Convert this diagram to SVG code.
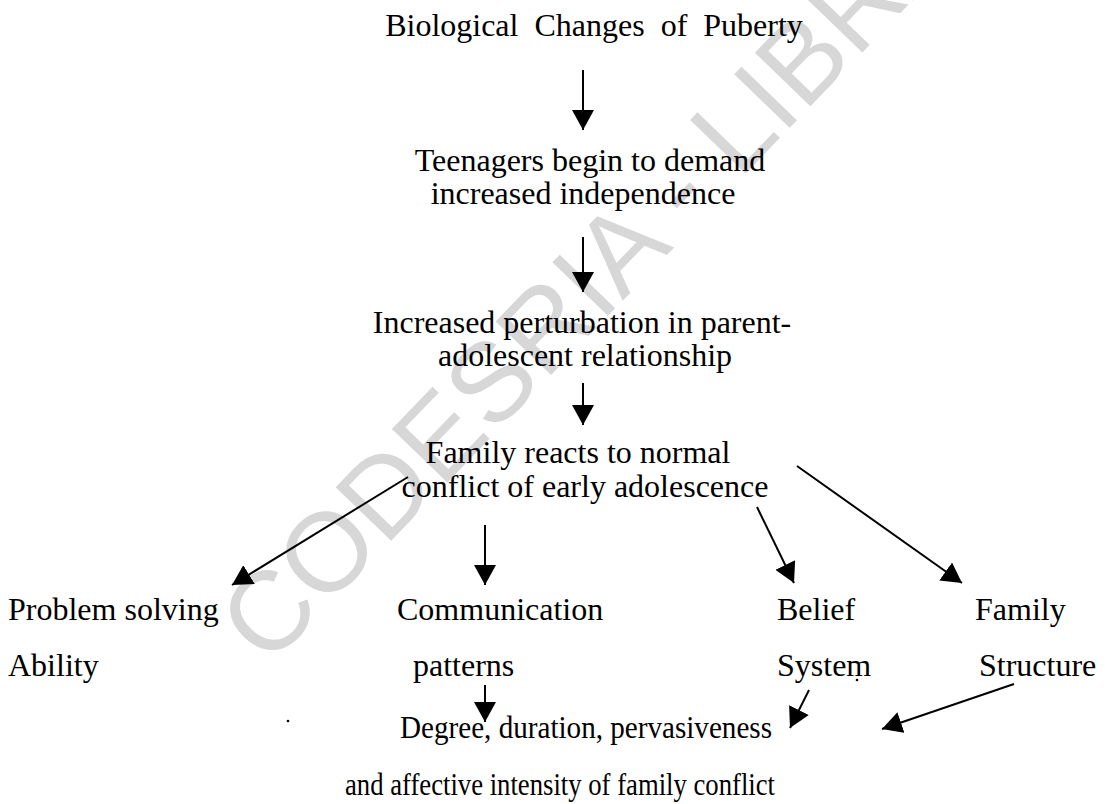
<svg xmlns="http://www.w3.org/2000/svg" width="1105" height="804" viewBox="0 0 1105 804">
<style>
.t{font-family:"Liberation Serif","Times New Roman",serif;font-size:32px;fill:#000;}
.c{text-anchor:middle;}
.e line{stroke:#000;stroke-width:2;marker-end:url(#ah);}
.wm{font-family:"Liberation Sans",Arial,sans-serif;font-size:112px;fill:#d7d7d7;}
</style>
<defs>
<marker id="ah" viewBox="0 0 20 22" refX="20" refY="11" markerWidth="20" markerHeight="22" orient="auto" markerUnits="userSpaceOnUse"><path d="M0,0 L20,11 L0,22 z" fill="#000"/></marker>
</defs>
<rect width="1105" height="804" fill="#fff"/>
<text class="wm" transform="translate(268,668) rotate(-46)">CODESRIA - LIBRARY</text>
<g id="n1"><text class="t c" x="594" y="36" word-spacing="8">Biological Changes of Puberty</text></g>
<g id="n2"><text class="t c" x="590" y="171">Teenagers begin to demand</text><text class="t c" x="583" y="204">increased independence</text></g>
<g id="n3"><text class="t c" x="582" y="333">Increased perturbation in parent-</text><text class="t c" x="585" y="366">adolescent relationship</text></g>
<g id="n4"><text class="t c" x="578" y="463">Family reacts to normal</text><text class="t c" x="585" y="497">conflict of early adolescence</text></g>
<g id="n5"><text class="t" x="8" y="620">Problem solving</text><text class="t" x="8" y="676">Ability</text></g>
<g id="n6"><text class="t" x="397" y="620">Communication</text><text class="t" x="413" y="676">patterns</text></g>
<g id="n7"><text class="t" x="777" y="620">Belief</text><text class="t" x="777" y="676">System</text></g>
<g id="n8"><text class="t" x="975" y="620">Family</text><text class="t" x="979" y="676">Structure</text></g>
<g id="n9"><text class="t" x="400" y="738" textLength="372" lengthAdjust="spacingAndGlyphs">Degree, duration, pervasiveness</text><text class="t" x="345" y="795" textLength="430" lengthAdjust="spacingAndGlyphs">and affective intensity of family conflict</text></g>
<g id="edges" class="e">
<line x1="583" y1="70" x2="583" y2="130"/>
<line x1="583" y1="237" x2="583" y2="292"/>
<line x1="583" y1="383" x2="583" y2="425"/>
<line x1="408" y1="477" x2="232" y2="585"/>
<line x1="485" y1="525" x2="485" y2="585"/>
<line x1="757" y1="507" x2="794" y2="583"/>
<line x1="797" y1="466" x2="962" y2="583"/>
<line x1="485" y1="685" x2="485" y2="722"/>
<line x1="809" y1="690" x2="790" y2="728"/>
<line x1="1014" y1="684" x2="882" y2="729"/>
</g>
<circle cx="288" cy="721" r="1.3" fill="#000"/>
<circle cx="857" cy="680" r="1.3" fill="#000"/>
</svg>
